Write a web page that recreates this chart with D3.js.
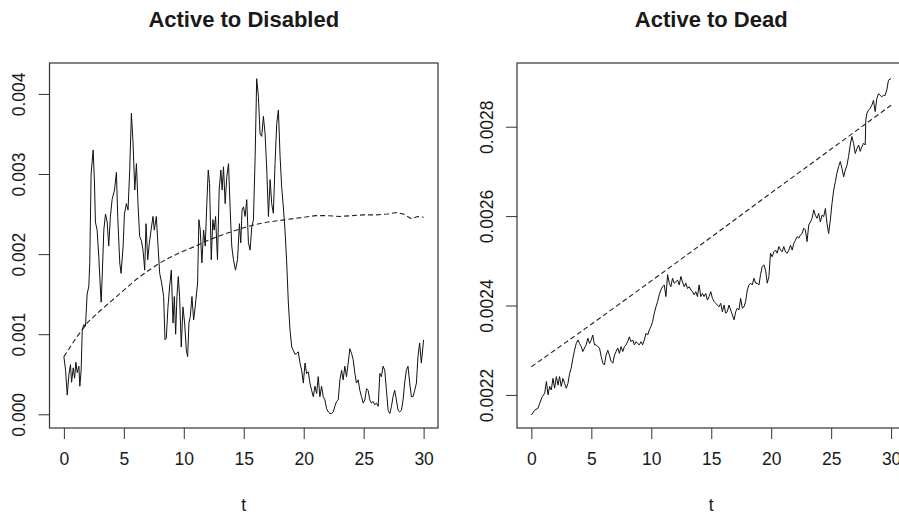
<!DOCTYPE html>
<html lang="en">
<head>
<meta charset="UTF-8">
<script src="https://d3js.org/d3.v7.min.js"></script>
<title>Transition rates</title>
<style>
  body { margin: 0; background: #fff; }
  text { font-family: "Liberation Sans", Arial, sans-serif; fill: #1a1a1a; }
</style>
</head>
<body>
<svg width="899" height="516" id="chart"></svg>
<script>
// tick labels
const xTicks = [0, 5, 10, 15, 20, 25, 30];
const leftYTicks = [0, 0.001, 0.002, 0.003, 0.004];
const rightYTicks = [0.0022, 0.0024, 0.0026, 0.0028];

// Active to Disabled, simulated rate (x 0.001)
const disT = [0,0.14,0.28,0.42,0.55,0.64,0.78,0.89,1.0,1.11,1.25,1.33,1.44,1.53,1.66,1.8,1.94,2.08,2.16,2.27,2.44,2.55,2.63,2.77,2.91,3.05,3.11,3.19,3.33,3.47,3.61,3.74,3.88,4.02,4.22,4.38,4.49,4.66,4.77,4.94,5.05,5.21,5.35,5.49,5.63,5.77,5.91,6.05,6.18,6.32,6.46,6.6,6.74,6.85,6.99,7.13,7.27,7.43,7.54,7.71,7.85,7.99,8.15,8.32,8.43,8.54,8.68,8.82,8.96,9.1,9.21,9.32,9.43,9.54,9.65,9.79,9.93,10.07,10.21,10.32,10.43,10.54,10.68,10.82,10.95,11.15,11.26,11.37,11.51,11.65,11.79,11.92,12.04,12.15,12.29,12.42,12.53,12.65,12.81,12.95,13.09,13.2,13.31,13.45,13.59,13.73,13.87,14.0,14.14,14.31,14.48,14.64,14.75,14.86,14.98,15.11,15.25,15.39,15.53,15.67,15.81,15.95,16.08,16.22,16.36,16.5,16.64,16.78,16.92,17.06,17.2,17.33,17.47,17.61,17.75,17.89,18.03,18.16,18.3,18.44,18.58,18.72,18.86,19.0,19.13,19.27,19.41,19.55,19.69,19.83,19.97,20.11,20.24,20.38,20.52,20.66,20.8,20.94,21.08,21.21,21.35,21.49,21.63,21.77,21.91,22.05,22.19,22.32,22.46,22.6,22.74,22.88,23.02,23.16,23.29,23.43,23.57,23.71,23.85,23.99,24.13,24.27,24.4,24.54,24.68,24.82,24.96,25.1,25.24,25.37,25.51,25.65,25.79,25.93,26.07,26.21,26.35,26.48,26.62,26.76,26.9,27.04,27.18,27.32,27.45,27.59,27.73,27.87,28.01,28.15,28.29,28.42,28.56,28.7,28.84,28.98,29.12,29.26,29.4,29.53,29.67,29.81,30.0];
const disRate = [0.72,0.55,0.24,0.5,0.62,0.4,0.58,0.45,0.65,0.52,0.6,0.35,0.55,1.05,1.12,1.1,1.5,1.6,1.9,3.0,3.3,2.9,2.4,2.3,1.97,1.55,1.4,1.7,2.3,2.5,2.4,2.1,2.47,2.68,2.8,3.02,2.47,1.89,1.76,2.1,2.5,2.63,2.55,3.05,3.76,3.38,2.8,3.13,2.63,2.22,2.17,2.05,1.8,2.38,1.93,2.14,2.3,2.47,2.3,2.47,2.1,1.76,1.64,1.47,0.93,0.95,1.34,1.6,1.8,1.14,1.47,1.0,1.47,1.72,1.47,0.84,1.34,1.14,0.8,0.72,1.14,1.22,1.47,1.18,1.34,1.64,2.43,2.3,1.89,2.3,2.1,2.63,3.05,2.88,1.93,2.43,2.3,2.47,1.93,2.8,3.05,2.8,3.09,2.63,2.97,3.13,2.55,2.1,1.93,1.8,1.93,2.38,2.14,2.55,2.59,2.47,2.68,2.14,2.05,2.34,2.43,3.22,4.19,3.97,3.5,3.47,3.72,3.5,3.05,2.47,2.93,2.63,2.51,3.13,3.63,3.8,3.22,2.84,2.59,2.3,1.9,1.39,1.05,0.84,0.8,0.75,0.76,0.78,0.64,0.55,0.39,0.64,0.51,0.53,0.39,0.3,0.22,0.35,0.26,0.47,0.22,0.35,0.22,0.18,0.07,0.03,0.01,0.01,0.03,0.1,0.16,0.18,0.43,0.55,0.43,0.6,0.47,0.64,0.82,0.76,0.68,0.51,0.39,0.43,0.3,0.22,0.14,0.18,0.32,0.3,0.18,0.14,0.16,0.12,0.14,0.1,0.51,0.47,0.6,0.55,0.3,0.05,0.01,0.1,0.22,0.3,0.18,0.05,0.03,0.05,0.18,0.39,0.55,0.6,0.39,0.22,0.22,0.3,0.39,0.72,0.89,0.64,0.93];

// Active to Disabled, model rate (x 0.001)
const disModelT = [0,1,2,3,4,5,6,7,8,9,10,11,12,13,14,15,16,17,18,19,20,21,22,23,24,25,26,27,27.7,28.3,29,29.5,30];
const disModel = [0.72,0.95,1.15,1.29,1.42,1.55,1.68,1.79,1.89,1.97,2.04,2.1,2.17,2.23,2.28,2.33,2.37,2.4,2.42,2.44,2.46,2.48,2.48,2.47,2.48,2.49,2.49,2.5,2.52,2.5,2.44,2.47,2.46];

// Active to Dead, simulated rate (x 0.001)
const deadT = [0,0.28,0.55,0.69,0.91,1.11,1.25,1.39,1.52,1.66,1.8,1.94,2.08,2.22,2.35,2.49,2.63,2.77,2.91,3.05,3.19,3.32,3.46,3.6,3.74,3.88,4.02,4.16,4.29,4.43,4.57,4.71,4.85,4.99,5.12,5.26,5.4,5.54,5.68,5.82,5.96,6.09,6.23,6.37,6.51,6.65,6.79,6.93,7.06,7.2,7.34,7.48,7.62,7.76,7.89,8.03,8.17,8.31,8.45,8.59,8.73,8.86,9.0,9.14,9.28,9.42,9.56,9.7,9.83,9.97,10.11,10.25,10.39,10.53,10.66,10.8,10.94,11.08,11.22,11.36,11.5,11.63,11.77,11.91,12.05,12.19,12.33,12.47,12.6,12.74,12.88,13.02,13.16,13.3,13.43,13.57,13.71,13.85,13.99,14.13,14.27,14.4,14.54,14.68,14.82,14.96,15.1,15.24,15.37,15.51,15.65,15.79,15.93,16.07,16.2,16.34,16.48,16.62,16.76,16.9,17.04,17.17,17.31,17.45,17.59,17.73,17.87,18.01,18.14,18.28,18.42,18.56,18.7,18.84,18.98,19.11,19.25,19.39,19.53,19.67,19.81,19.94,20.08,20.22,20.36,20.5,20.64,20.78,20.91,21.05,21.19,21.33,21.47,21.61,21.75,21.88,22.02,22.16,22.3,22.44,22.58,22.71,22.85,22.99,23.13,23.27,23.41,23.55,23.68,23.82,23.96,24.1,24.24,24.38,24.52,24.65,24.79,24.93,25.07,25.21,25.35,25.48,25.62,25.76,25.9,26.04,26.18,26.32,26.45,26.59,26.73,26.87,27.01,27.15,27.29,27.42,27.56,27.7,27.84,27.89,27.98,28.12,28.25,28.39,28.53,28.67,28.81,28.95,29.09,29.22,29.36,29.5,29.64,29.78,30.0];
const deadRate = [2.155,2.166,2.17,2.181,2.196,2.204,2.23,2.2,2.219,2.211,2.237,2.215,2.241,2.222,2.241,2.219,2.237,2.226,2.215,2.226,2.248,2.26,2.282,2.3,2.315,2.323,2.315,2.308,2.297,2.305,2.312,2.327,2.315,2.323,2.334,2.312,2.312,2.308,2.305,2.286,2.271,2.267,2.289,2.3,2.289,2.275,2.271,2.289,2.297,2.305,2.293,2.308,2.297,2.308,2.312,2.319,2.33,2.319,2.323,2.312,2.319,2.315,2.312,2.319,2.312,2.323,2.338,2.334,2.345,2.353,2.364,2.383,2.397,2.409,2.424,2.435,2.442,2.446,2.42,2.469,2.45,2.442,2.461,2.45,2.453,2.457,2.446,2.465,2.453,2.442,2.45,2.438,2.442,2.435,2.431,2.424,2.431,2.42,2.446,2.42,2.427,2.42,2.427,2.412,2.42,2.431,2.416,2.409,2.405,2.401,2.397,2.405,2.386,2.401,2.383,2.386,2.401,2.39,2.379,2.368,2.386,2.394,2.39,2.416,2.394,2.397,2.409,2.435,2.446,2.45,2.446,2.461,2.45,2.45,2.446,2.469,2.487,2.491,2.479,2.45,2.465,2.517,2.509,2.52,2.524,2.517,2.532,2.524,2.52,2.532,2.52,2.517,2.524,2.535,2.524,2.539,2.546,2.554,2.551,2.558,2.561,2.573,2.569,2.543,2.58,2.587,2.595,2.614,2.602,2.595,2.606,2.587,2.602,2.599,2.617,2.584,2.561,2.591,2.628,2.658,2.677,2.696,2.711,2.722,2.707,2.688,2.703,2.714,2.733,2.759,2.778,2.763,2.74,2.751,2.759,2.745,2.755,2.763,2.759,2.815,2.83,2.837,2.841,2.848,2.859,2.834,2.863,2.874,2.87,2.867,2.87,2.87,2.882,2.904,2.908];

// Active to Dead, model rate (x 0.001)
const deadModelT = [0,5,10,15,20,25,30];
const deadModel = [2.263,2.358,2.455,2.553,2.652,2.75,2.848];

const svg = d3.select("#chart");

function panel(opt) {
    let x = d3.scaleLinear().domain([-1.2, 31.2]).range([opt.left, opt.right]);
    let y = d3.scaleLinear().domain(opt.yDomain).range([428, 63]);
    let g = svg.append("g");

    // title
    g.append("text")
        .attr("x", (opt.left + opt.right) / 2)
        .attr("y", 27)
        .attr("text-anchor", "middle")
        .attr("style", "font-weight: bold; font-size: 22px;")
        .text(opt.title);

    // x axis
    let xa = g.append("g")
        .attr("transform", "translate(0,428)")
        .call(d3.axisBottom(x).tickValues(xTicks).tickSize(11).tickSizeOuter(0).tickPadding(14));
    xa.select(".domain").remove();
    xa.selectAll("line").attr("stroke", "#333");
    xa.selectAll("text").attr("style", "font-size: 17.5px;").attr("fill", "#1a1a1a");

    // y axis, labels turned like R
    let ya = g.append("g")
        .attr("transform", "translate(" + opt.left + ",0)")
        .call(d3.axisLeft(y).tickValues(opt.yTicks).tickFormat(d3.format(opt.fmt)).tickSize(11).tickSizeOuter(0));
    ya.select(".domain").remove();
    ya.selectAll("line").attr("stroke", "#333");
    ya.selectAll("text")
        .attr("transform", "rotate(-90)")
        .attr("x", 0)
        .attr("y", -24.5)
        .attr("dy", 0)
        .attr("text-anchor", "middle")
        .attr("fill", "#1a1a1a")
        .attr("style", "font-size: 17.5px;");

    // the label
    g.append("text")
        .attr("x", (opt.left + opt.right) / 2)
        .attr("y", 511)
        .attr("text-anchor", "middle")
        .attr("style", "font-size: 17.5px;")
        .text("t");

    let line = d3.line().x(d => x(d[0])).y(d => y(d[1] / 1000));

    g.append("path")
        .datum(d3.zip(opt.modelT, opt.model))
        .attr("d", line)
        .attr("fill", "none")
        .attr("stroke", "#222")
        .attr("stroke-width", 1.1)
        .attr("stroke-dasharray", "5,3");

    g.append("path")
        .datum(d3.zip(opt.simT, opt.sim))
        .attr("d", line)
        .attr("fill", "none")
        .attr("stroke", "#111")
        .attr("stroke-width", 1);

    // box
    g.append("rect")
        .attr("x", opt.left)
        .attr("y", 63)
        .attr("width", opt.right - opt.left)
        .attr("height", 365)
        .attr("fill", "none")
        .attr("stroke", "#333")
        .attr("stroke-width", 1.2);
}

panel({
    title: "Active to Disabled", left: 49.5, right: 438,
    yDomain: [-0.000171, 0.004386], yTicks: leftYTicks, fmt: ".3f",
    simT: disT, sim: disRate, modelT: disModelT, model: disModel
});

panel({
    title: "Active to Dead", left: 517, right: 905.5,
    yDomain: [0.002126, 0.0029425], yTicks: rightYTicks, fmt: ".4f",
    simT: deadT, sim: deadRate, modelT: deadModelT, model: deadModel
});
</script>
</body>
</html>
